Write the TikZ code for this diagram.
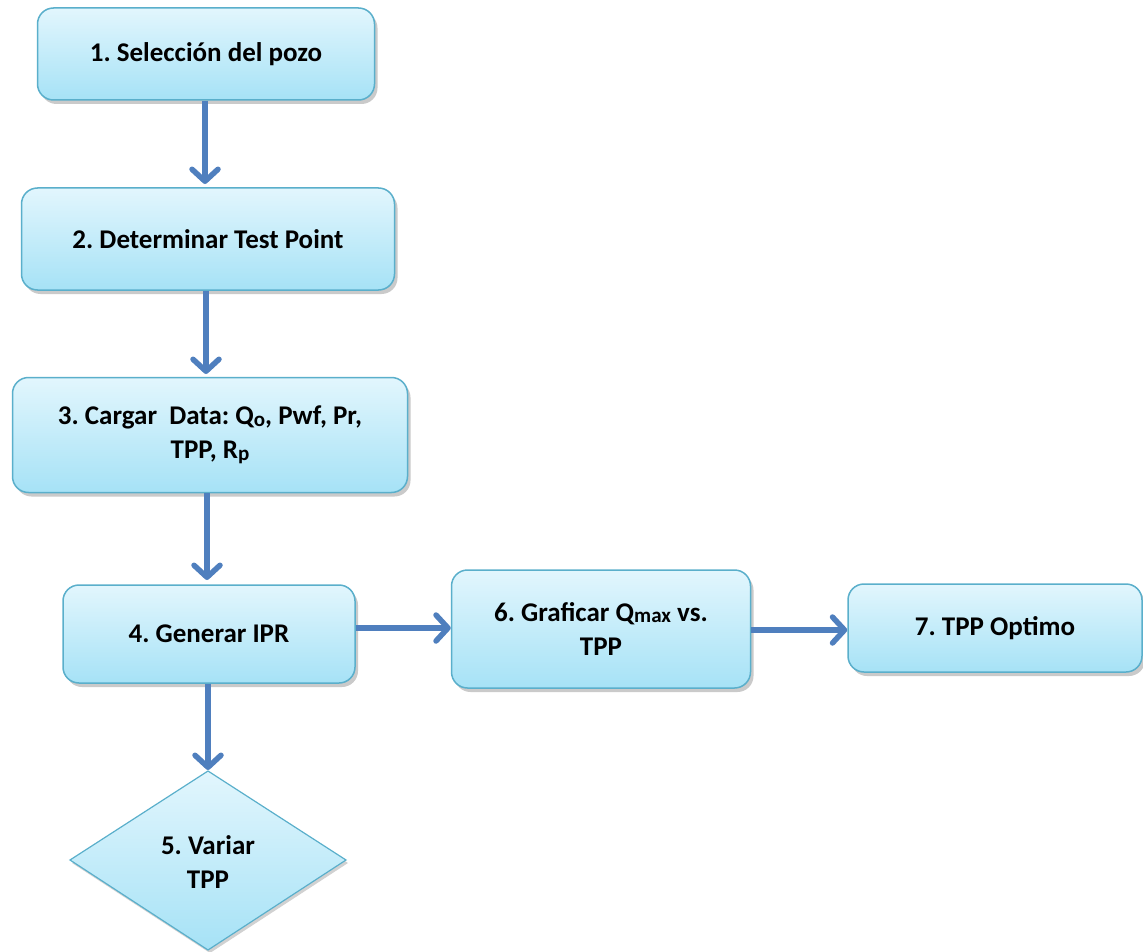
\documentclass[tikz,border=0pt]{standalone}
\usepackage{fontspec}
\setmainfont{Carlito}
\usetikzlibrary{arrows.meta,shadows,shapes.geometric}
\frenchspacing
\definecolor{boxline}{HTML}{5AAFCB}
\definecolor{boxtop}{HTML}{E2F6FD}
\definecolor{boxbot}{HTML}{A6E2F6}
\definecolor{arrowc}{HTML}{4F7FBE}
\newcommand{\sm}[1]{{\fontsize{21}{21}\selectfont\raisebox{-1.5pt}{#1}}}
\tikzset{
  x=1pt,y=-1pt,
  txt/.style={font=\fontsize{27}{34}\selectfont\bfseries, align=center, inner sep=0pt},
  procbox/.style={txt, draw=boxline, line width=1.5pt, rounded corners=16pt,
    top color=boxtop, bottom color=boxbot,
    drop shadow={shadow xshift=3pt, shadow yshift=-4pt, opacity=0.35, fill=black!60}},
  decbox/.style={draw=boxline, line width=1.2pt,
    top color=boxtop, bottom color=boxbot,
    drop shadow={shadow xshift=2pt, shadow yshift=-3pt, opacity=0.3, fill=black!60}},
  flowarrow/.style={draw=arrowc, line width=5.5pt,
    -{Straight Barb[length=12pt, width=26pt, line width=5.5pt, round]}}
}
\begin{document}
\begin{tikzpicture}
\useasboundingbox (0,0) rectangle (1143,952);
\node[procbox, minimum width=337pt, minimum height=92pt] (n1) at (206,54) {1. Selección del pozo};
\node[procbox, minimum width=373pt, minimum height=102pt] (n2) at (208,239) {2. Determinar Test Point};
\node[procbox, minimum width=395pt, minimum height=115pt] (n3) at (210,435) {3. Cargar\ \ Data: Q\sm{o}, Pwf, Pr,\\TPP, R\sm{p}};
\node[procbox, minimum width=292pt, minimum height=98pt] (n4) at (209,634) {4. Generar IPR};
\node[procbox, minimum width=299pt, minimum height=118pt] (n6) at (601,629) {6. Graficar Q\sm{max} vs.\\TPP};
\node[procbox, minimum width=294pt, minimum height=88pt] (n7) at (995,628) {7. TPP Optimo};
\draw[decbox] (208,771) -- (346,860) -- (208,950) -- (70,860) -- cycle;
\node[txt] (n5) at (208,862) {5. Variar\\TPP};
\coordinate (n5top) at (208,770);
\draw[flowarrow] (n1.south -| 205,0) -- (205,184);
\draw[flowarrow] (n2.south -| 206,0) -- (206,374);
\draw[flowarrow] (n3.south -| 207,0) -- (207,580);
\draw[flowarrow] (n4.south -| 208,0) -- (n5top);
\draw[flowarrow] (n4.east |- 0,628) -- (n6.west |- 0,628);
\draw[flowarrow] (n6.east |- 0,630) -- (n7.west |- 0,630);
\end{tikzpicture}
\end{document}
